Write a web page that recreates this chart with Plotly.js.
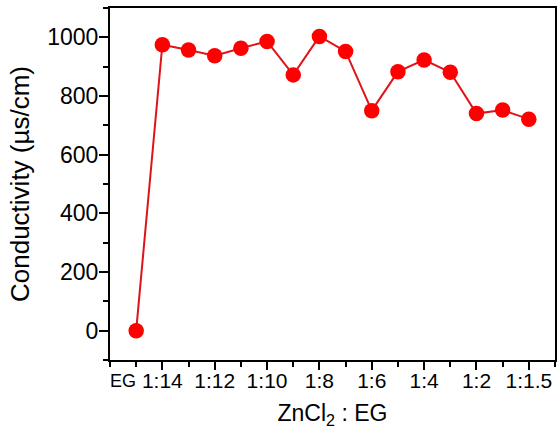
<!DOCTYPE html>
<html>
<head>
<meta charset="utf-8">
<script src="https://cdn.plot.ly/plotly-3.0.1.min.js"></script>
<style>html,body{margin:0;padding:0;background:#fff;}#chart{width:558px;height:429px;}</style>
</head>
<body>
<div id="chart"></div>
<script>
// Molar ratio ZnCl2 : EG (index positions along the x axis)
const categories = ["EG","1:14","1:13","1:12","1:11","1:10","1:9","1:8","1:7","1:6","1:5","1:4","1:3","1:2","1:1.75","1:1.5"];
const conductivity = [0, 975, 957, 937, 963, 986, 872, 1003, 952, 750, 883, 923, 881, 740, 752, 721];
const labeledTicks = ["1:14","1:12","1:10","1:8","1:6","1:4","1:2","1:1.5"];
const firstLabel = "EG";

const xIdx = categories.map((c, i) => i);
const majorVals = labeledTicks.map(t => categories.indexOf(t));
const majorText = labeledTicks.slice();

const fontFam = '"Liberation Sans", Arial, sans-serif';

const trace = {
  x: xIdx,
  y: conductivity,
  type: 'scatter',
  mode: 'lines+markers',
  line: {color: '#e01418', width: 2},
  marker: {color: '#ff0000', size: 15.5, line: {width: 0}},
  hoverinfo: 'skip',
  showlegend: false
};

const layout = {
  width: 558,
  height: 429,
  margin: {l: 110, r: 3, t: 8, b: 69},
  paper_bgcolor: '#ffffff',
  plot_bgcolor: '#ffffff',
  font: {family: fontFam, color: '#000', size: 21},
  xaxis: {
    range: [-1, 16],
    tickmode: 'array',
    tickvals: majorVals,
    ticktext: majorText,
    ticks: 'outside',
    ticklen: 8,
    tickwidth: 2,
    tickcolor: '#000',
    ticklabelstandoff: -7,
    minor: {ticks: 'outside', ticklen: 5, tickwidth: 2, tickcolor: '#000', tick0: 0, dtick: 1, showgrid: false},
    showline: true,
    linewidth: 2,
    linecolor: '#000',
    mirror: true,
    showgrid: false,
    zeroline: false,
    tickfont: {size: 21, family: fontFam},
    title: {text: 'ZnCl<sub>2</sub> : EG', font: {size: 23, family: fontFam}, standoff: 15}
  },
  yaxis: {
    range: [-100, 1100],
    tickmode: 'linear',
    tick0: 0,
    dtick: 200,
    ticks: 'outside',
    ticklen: 9,
    tickwidth: 2,
    tickcolor: '#000',
    ticklabelstandoff: -4,
    minor: {ticks: 'outside', ticklen: 5, tickwidth: 2, tickcolor: '#000', dtick: 100, showgrid: false},
    showline: true,
    linewidth: 2,
    linecolor: '#000',
    mirror: true,
    showgrid: false,
    zeroline: false,
    tickfont: {size: 23, family: fontFam},
    title: {text: 'Conductivity (µs/cm)', font: {size: 26, family: fontFam}, standoff: 10}
  },
  annotations: [{
    x: categories.indexOf(firstLabel),
    xref: 'x',
    y: 0,
    yref: 'paper',
    yanchor: 'top',
    xanchor: 'center',
    xshift: -13,
    yshift: -9,
    text: firstLabel,
    showarrow: false,
    font: {size: 18, family: fontFam, color: '#000'}
  }]
};

Plotly.newPlot('chart', [trace], layout, {displayModeBar: false, staticPlot: true});
</script>
</body>
</html>
